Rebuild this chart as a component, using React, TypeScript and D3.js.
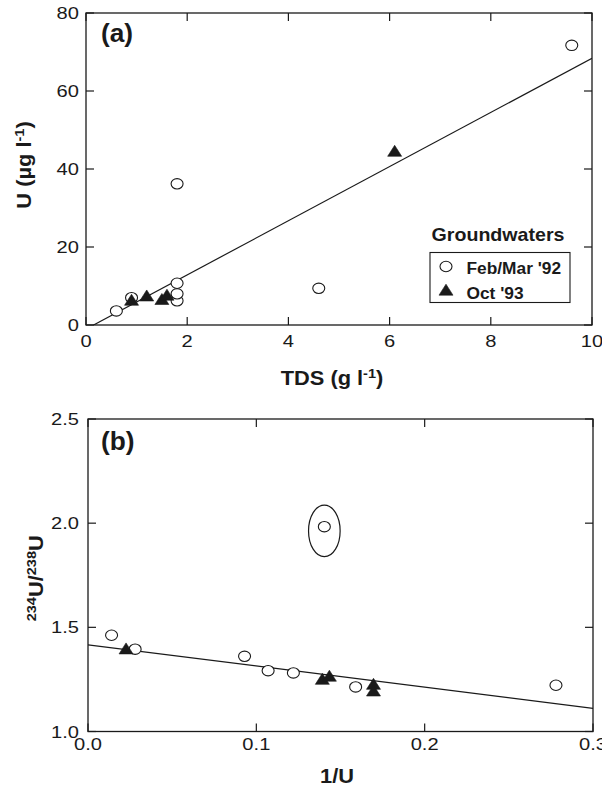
import React from "react";
import * as d3 from "d3";

// Panel (a): U vs TDS
const tdsFeb = [0.6, 0.9, 1.8, 1.8, 1.8, 1.8, 4.6, 9.6];
const uFeb = [3.6, 7.0, 6.2, 8.0, 10.7, 36.2, 9.4, 71.7];
const tdsOct = [0.9, 1.2, 1.5, 1.6, 6.1];
const uOct = [6.0, 7.1, 6.2, 7.3, 44.2];
const fitAX = [0.15, 10];
const fitAY = [0, 68.4];
const ticksAX = [0, 2, 4, 6, 8, 10];
const ticksAY = [0, 20, 40, 60, 80];

// Panel (b): 234U/238U vs 1/U
const invUFeb = [0.014, 0.028, 0.093, 0.107, 0.122, 0.159, 0.278, 0.1404];
const ratioFeb = [1.462, 1.395, 1.361, 1.292, 1.281, 1.214, 1.222, 1.983];
const invUOct = [0.0226, 0.1392, 0.1434, 0.1696, 0.1696];
const ratioOct = [1.39, 1.244, 1.259, 1.22, 1.188];
const fitBX = [0, 0.3];
const fitBY = [1.416, 1.111];
const outlierCenter = [0.1404, 1.963];
const ticksBX = [0, 0.1, 0.2, 0.3];
const ticksBY = [1.0, 1.5, 2.0, 2.5];

const legendLabels = ["Feb/Mar '92", "Oct '93"];

const FONT = "'Liberation Sans', Arial, Helvetica, sans-serif";
const INK = "#1a1a1a";

function Circle({ x, y }: { x: number; y: number }) {
  return <ellipse cx={x} cy={y} rx={6} ry={5.2} fill="white" stroke={INK} strokeWidth={1.1} />;
}
function Tri({ x, y }: { x: number; y: number }) {
  const w = 14, h = 11;
  const d = `M${x},${y - (2 * h) / 3} L${x + w / 2},${y + h / 3} L${x - w / 2},${y + h / 3} Z`;
  return <path d={d} fill={INK} stroke={INK} strokeWidth={0.6} />;
}

function Frame({ x0, x1, y0, y1 }: { x0: number; x1: number; y0: number; y1: number }) {
  return <rect x={x0} y={y0} width={x1 - x0} height={y1 - y0} fill="none" stroke={INK} strokeWidth={1.3} />;
}

type TP = {
  x: number; y: number; size: number; sx?: number; anchor?: string; bold?: boolean; rot?: number;
  children: React.ReactNode;
};
function T({ x, y, size, sx = 1, anchor = "start", bold = false, rot = 0, children }: TP) {
  return (
    <text
      transform={`translate(${x},${y}) rotate(${rot}) scale(${sx},1)`}
      fontSize={size}
      fontWeight={bold ? "bold" : "normal"}
      textAnchor={anchor}
      fill={INK}
    >
      {children}
    </text>
  );
}

export default function App() {
  const xa = d3.scaleLinear().domain([0, 10]).range([86, 592]);
  const ya = d3.scaleLinear().domain([0, 80]).range([325, 13]);
  const xb = d3.scaleLinear().domain([0, 0.3]).range([88, 593]);
  const yb = d3.scaleLinear().domain([1, 2.5]).range([731.5, 419]);

  const tick = 8;
  const lineA = d3.line<number>().x((_, i) => xa(fitAX[i])).y((d) => ya(d));
  const lineB = d3.line<number>().x((_, i) => xb(fitBX[i])).y((d) => yb(d));

  const aX0 = xa(0), aX1 = xa(10), aY0 = ya(80), aY1 = ya(0);
  const bX0 = xb(0), bX1 = xb(0.3), bY0 = yb(2.5), bY1 = yb(1);

  const TS = 16.5, TSX = 1.22; // tick label size and stretch
  const HS = 19.5, HSX = 1.12; // axis titles

  return (
    <div style={{ position: "absolute", left: 0, top: 0 }}>
      <svg width={602} height={788} style={{ display: "block", fontFamily: FONT }}>
        <rect width={602} height={788} fill="white" />
        <defs>
          <clipPath id="clipA"><rect x={aX0} y={aY0} width={aX1 - aX0} height={aY1 - aY0} /></clipPath>
          <clipPath id="clipB"><rect x={bX0} y={bY0} width={bX1 - bX0} height={bY1 - bY0} /></clipPath>
        </defs>

        {/* ===== Panel (a) ===== */}
        <g clipPath="url(#clipA)">
          <path d={lineA(fitAY) || ""} fill="none" stroke={INK} strokeWidth={1.2} />
        </g>
        <Frame x0={aX0} x1={aX1} y0={aY0} y1={aY1} />
        {ticksAX.map((t) => (
          <g key={"ax" + t}>
            <line x1={xa(t)} x2={xa(t)} y1={aY1} y2={aY1 - tick} stroke={INK} strokeWidth={1.2} />
            <line x1={xa(t)} x2={xa(t)} y1={aY0} y2={aY0 + tick} stroke={INK} strokeWidth={1.2} />
            <T x={xa(t)} y={347} size={TS} sx={TSX} anchor="middle">{d3.format("d")(t)}</T>
          </g>
        ))}
        {ticksAY.map((t) => (
          <g key={"ay" + t}>
            <line x1={aX0} x2={aX0 + tick} y1={ya(t)} y2={ya(t)} stroke={INK} strokeWidth={1.2} />
            <line x1={aX1} x2={aX1 - tick} y1={ya(t)} y2={ya(t)} stroke={INK} strokeWidth={1.2} />
            <T x={79} y={ya(t) + 6} size={TS} sx={TSX} anchor="end">{d3.format("d")(t)}</T>
          </g>
        ))}
        {tdsFeb.map((v, i) => <Circle key={"fa" + i} x={xa(v)} y={ya(uFeb[i])} />)}
        {tdsOct.map((v, i) => <Tri key={"oa" + i} x={xa(v)} y={ya(uOct[i])} />)}
        <T x={101} y={41.5} size={25} sx={1.05} bold>(a)</T>

        {/* legend */}
        <T x={498} y={241} size={18.5} sx={1.06} bold anchor="middle">Groundwaters</T>
        <rect x={430} y={252.5} width={140} height={50} fill="white" stroke={INK} strokeWidth={1.1} />
        <Circle x={446} y={266.5} />
        <T x={466.5} y={273.5} size={16.5} sx={1.05} bold>{legendLabels[0]}</T>
        <Tri x={446} y={291.5} />
        <T x={466.5} y={298.5} size={16.5} sx={1.05} bold>{legendLabels[1]}</T>

        {/* axis titles (a) */}
        <T x={332} y={385} size={HS} sx={HSX} bold anchor="middle">
          TDS (g l<tspan dy={-7} fontSize={13}>-1</tspan><tspan dy={7}>)</tspan>
        </T>
        <T x={31} y={(aY0 + aY1) / 2 - 4} size={HS} sx={HSX} rot={-90} bold anchor="middle">
          U (µg l<tspan dy={-7} fontSize={13}>-1</tspan><tspan dy={7}>)</tspan>
        </T>

        {/* ===== Panel (b) ===== */}
        <g clipPath="url(#clipB)">
          <path d={lineB(fitBY) || ""} fill="none" stroke={INK} strokeWidth={1.2} />
        </g>
        <Frame x0={bX0} x1={bX1} y0={bY0} y1={bY1} />
        {ticksBX.map((t) => (
          <g key={"bx" + t}>
            <line x1={xb(t)} x2={xb(t)} y1={bY1} y2={bY1 - tick} stroke={INK} strokeWidth={1.2} />
            <line x1={xb(t)} x2={xb(t)} y1={bY0} y2={bY0 + tick} stroke={INK} strokeWidth={1.2} />
            <T x={xb(t)} y={750} size={TS} sx={TSX} anchor="middle">{d3.format(".1f")(t)}</T>
          </g>
        ))}
        {ticksBY.map((t) => (
          <g key={"by" + t}>
            <line x1={bX0} x2={bX0 + tick} y1={yb(t)} y2={yb(t)} stroke={INK} strokeWidth={1.2} />
            <line x1={bX1} x2={bX1 - tick} y1={yb(t)} y2={yb(t)} stroke={INK} strokeWidth={1.2} />
            <T x={79} y={yb(t) + 6} size={TS} sx={TSX} anchor="end">{d3.format(".1f")(t)}</T>
          </g>
        ))}
        <ellipse cx={xb(outlierCenter[0])} cy={yb(outlierCenter[1])} rx={15.8} ry={25.8} fill="none" stroke={INK} strokeWidth={1.2} />
        {invUFeb.map((v, i) => <Circle key={"fb" + i} x={xb(v)} y={yb(ratioFeb[i])} />)}
        {invUOct.map((v, i) => <Tri key={"ob" + i} x={xb(v)} y={yb(ratioOct[i])} />)}
        <T x={101} y={450} size={25} sx={1.05} bold>(b)</T>

        <T x={337} y={783} size={HS} sx={HSX} bold anchor="middle">1/U</T>
        <T x={43} y={(bY0 + bY1) / 2 + 3} size={HS} sx={HSX} rot={-90} bold anchor="middle">
          <tspan dy={-7} fontSize={13}>234</tspan><tspan dy={7}>U/</tspan><tspan dy={-7} fontSize={13}>238</tspan><tspan dy={7}>U</tspan>
        </T>
      </svg>
    </div>
  );
}
